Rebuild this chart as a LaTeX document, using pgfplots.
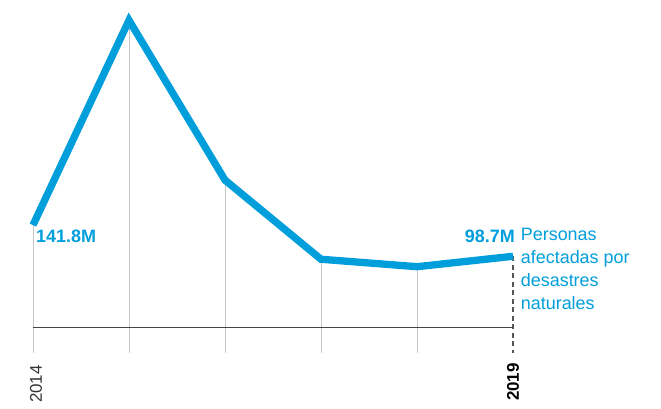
\documentclass[border=0pt]{standalone}
\usepackage{pgfplots}
\pgfplotsset{compat=1.18}
\usepackage{pgfplotstable}
\usepackage{fontspec}
\setmainfont{Liberation Sans}

\definecolor{unblue}{HTML}{009EDB}
\definecolor{gridgray}{HTML}{C8C8C8}
\definecolor{basegray}{HTML}{444444}
\definecolor{dashgray}{HTML}{555555}

% personas afectadas por desastres naturales (millones)
\pgfplotstableread{
year val
2014 141.8
2015 425
2016 204
2017 94.6
2018 84.3
2019 98.7
}\affected

\begin{document}
\begin{tikzpicture}
\useasboundingbox (-33bp,-56bp) rectangle (628bp,353bp);
\begin{axis}[
    at={(0,0)}, anchor=south west,
    scale only axis,
    width=480bp, height=353bp,
    xmin=2014, xmax=2019,
    ymin=-35, ymax=453,
    axis lines=none,
    clip=false,
    ]
% lineas verticales hasta el valor
\addplot[draw=none, mark=none, forget plot,
    restrict x to domain=2014:2018,
    error bars/.cd, y dir=minus, y explicit, error mark=none,
    error bar style={draw=gridgray, solid, line width=0.8bp}]
    table[x=year, y=val, y error expr=\thisrow{val}+35] \affected;
\addplot[draw=none, mark=none, forget plot,
    restrict x to domain=2019:2019,
    error bars/.cd, y dir=minus, y explicit, error mark=none,
    error bar style={draw=dashgray, line width=1.3bp, dash pattern=on 5bp off 3.5bp}]
    table[x=year, y=val, y error expr=\thisrow{val}+35] \affected;
% linea base
\addplot[basegray, line width=1bp, forget plot] coordinates {(2014,0) (2019,0)};
% serie
\addplot[unblue, line width=7.3bp, line join=miter, line cap=butt, mark=none] table[x=year, y=val] \affected;

\node[anchor=north west, inner sep=0, text=unblue, font=\bfseries\fontsize{18}{21}\selectfont,
      xshift=3bp, yshift=-5bp] at (axis cs:2014,141.8) {141.8M};
\node[anchor=base east, inner sep=0, text=unblue, font=\bfseries\fontsize{18}{21}\selectfont,
      xshift=2bp, yshift=13.5bp] at (axis cs:2019,98.7) {98.7M};
\node[anchor=north west, inner sep=0, text=unblue, align=left, font=\fontsize{18}{23}\selectfont,
      xshift=7.7bp, yshift=28bp] at (axis cs:2019,98.7) {Personas\\afectadas por\\desastres\\naturales};

\node[xshift=3bp, yshift=-12bp, rotate=90, anchor=east, inner sep=0, text=black!80,
      font=\fontsize{17}{20}\selectfont] at (axis cs:2014,-35) {2014};
\node[yshift=-10bp, rotate=90, anchor=east, inner sep=0, text=black,
      font=\bfseries\fontsize{17}{20}\selectfont] at (axis cs:2019,-35) {2019};
\end{axis}
\end{tikzpicture}
\end{document}
